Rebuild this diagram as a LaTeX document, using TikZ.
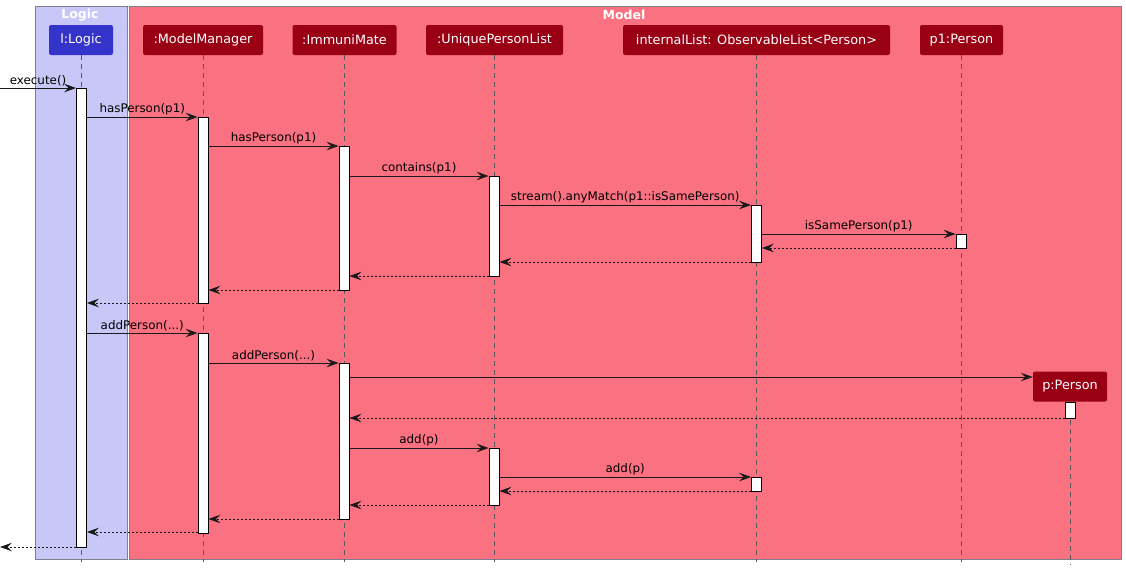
\documentclass[tikz,border=0pt]{standalone}
\usepackage{fontspec}
\setmainfont{DejaVu Sans}
\usepackage{xcolor}
\usetikzlibrary{arrows.meta,positioning,calc}

\definecolor{logicbg}{HTML}{C8C8F8}
\definecolor{logichd}{HTML}{3434CA}
\definecolor{modelbg}{HTML}{FA7182}
\definecolor{modelhd}{HTML}{990014}
\definecolor{boxline}{HTML}{80808C}

\tikzset{
  pkgbox/.style={draw=boxline, line width=0.8pt},
  pkgtitle/.style={text=white, inner sep=0pt, font=\bfseries\fontsize{12.5}{14}\selectfont},
  actor/.style={rectangle, rounded corners=2pt, minimum height=30, inner xsep=2pt, text=white, font=\fontsize{12.8}{15}\selectfont},
  lifeline/.style={draw=black!65, line width=0.7pt, dash pattern=on 5pt off 4pt},
  actbar/.style={rectangle, draw=black, fill=white, line width=0.8pt, minimum width=10, inner sep=0pt, anchor=north},
  call/.style={line width=0.8pt, black!90, -{Stealth[length=12pt,width=8.5pt,inset=4.5pt]}},
  reply/.style={call, dash pattern=on 2pt off 2pt},
  lbl/.style={above=2pt, inner sep=0pt, text=black, font=\fontsize{11.9}{14}\selectfont}
}

\begin{document}
\begin{tikzpicture}[x=1pt, y=-1pt]
    \useasboundingbox (0,0) rectangle (1126,571);

    % Packages
    \draw[pkgbox, fill=logicbg] (35,6) rectangle (127,559);
    \draw[pkgbox, fill=modelbg] (129,6) rectangle (1121,559);
    \node[pkgtitle] (lgt) at (80,15) {Logic};
    \node[pkgtitle] (mdt) at (624,15) {Model};

    % Participants
    \node[actor, fill=logichd, minimum width=64] (lg) at (81,40) {l:Logic};
    \node[actor, fill=modelhd, minimum width=120] (mm) at (203,40) {:ModelManager};
    \node[actor, fill=modelhd, minimum width=104] (im) at (344.5,40) {:ImmuniMate};
    \node[actor, fill=modelhd, minimum width=137] (up) at (494.5,40) {:UniquePersonList};
    \node[actor, fill=modelhd, minimum width=267] (il) at (756.5,40) {internalList: ObservableList<Person>};
    \node[actor, fill=modelhd, minimum width=83] (pa) at (961.5,40) {p1:Person};
    \node[actor, fill=modelhd, minimum width=74] (pb) at (1070,386.5) {p:Person};

    % Lifelines
    \draw[lifeline] (lg.south) -- (lg.south |- 0,562);
    \draw[lifeline] (mm.south) -- (mm.south |- 0,562);
    \draw[lifeline] (im.south) -- (im.south |- 0,562);
    \draw[lifeline] (up.south) -- (up.south |- 0,562);
    \draw[lifeline] (il.south) -- (il.south |- 0,562);
    \draw[lifeline] (pa.south) -- (pa.south |- 0,562);
    \draw[lifeline] (pb.south) -- (pb.south |- 0,565);

    % Activations
    \node[actbar, minimum height=459] (lgA) at (81.5,88) {};
    \node[actbar, minimum height=186] (mmA) at (203,117) {};
    \node[actbar, minimum height=200] (mmB) at (203,333) {};
    \node[actbar, minimum height=144] (imA) at (344,146) {};
    \node[actbar, minimum height=156] (imB) at (344,363) {};
    \node[actbar, minimum height=100] (upA) at (494,176) {};
    \node[actbar, minimum height=57] (upB) at (494,448) {};
    \node[actbar, minimum height=57] (ilA) at (756.5,205) {};
    \node[actbar, minimum height=14] (ilB) at (756.5,477) {};
    \node[actbar, minimum height=14] (paA) at (961,234) {};
    \node[actbar, minimum height=16] (pbA) at (1070,402) {};

    % Free ends
    \coordinate (src) at (0,88);
    \coordinate (snk) at (0,547);

    % hasPerson
    \draw[call] (src) -- node[lbl] {execute()} (lgA.west |- src);
    \draw[call] (lgA.east |- 0,117) -- node[lbl] {hasPerson(p1)} (mmA.west |- 0,117);
    \draw[call] (mmA.east |- 0,146) -- node[lbl] {hasPerson(p1)} (imA.west |- 0,146);
    \draw[call] (imA.east |- 0,176) -- node[lbl] {contains(p1)} (upA.west |- 0,176);
    \draw[call] (upA.east |- 0,205) -- node[lbl] {stream().anyMatch(p1::isSamePerson)} (ilA.west |- 0,205);
    \draw[call] (ilA.east |- 0,234) -- node[lbl] {isSamePerson(p1)} (paA.west |- 0,234);
    \draw[reply] (paA.west |- 0,248) -- (ilA.east |- 0,248);
    \draw[reply] (ilA.west |- 0,262) -- (upA.east |- 0,262);
    \draw[reply] (upA.west |- 0,276) -- (imA.east |- 0,276);
    \draw[reply] (imA.west |- 0,290) -- (mmA.east |- 0,290);
    \draw[reply] (mmA.west |- 0,303) -- (lgA.east |- 0,303);

    % addPerson
    \draw[call] (lgA.east |- 0,333) -- node[lbl] {addPerson(...)} (mmB.west |- 0,333);
    \draw[call] (mmB.east |- 0,363) -- node[lbl] {addPerson(...)} (imB.west |- 0,363);
    \draw[call] (imB.east |- 0,377) -- (pb.west |- 0,377);
    \draw[reply] (pbA.west |- 0,418) -- (imB.east |- 0,418);
    \draw[call] (imB.east |- 0,448) -- node[lbl] {add(p)} (upB.west |- 0,448);
    \draw[call] (upB.east |- 0,477) -- node[lbl] {add(p)} (ilB.west |- 0,477);
    \draw[reply] (ilB.west |- 0,491) -- (upB.east |- 0,491);
    \draw[reply] (upB.west |- 0,505) -- (imB.east |- 0,505);
    \draw[reply] (imB.west |- 0,519) -- (mmB.east |- 0,519);
    \draw[reply] (mmB.west |- 0,532) -- (lgA.east |- 0,532);
    \draw[reply] (lgA.west |- snk) -- (snk);

\end{tikzpicture}
\end{document}
